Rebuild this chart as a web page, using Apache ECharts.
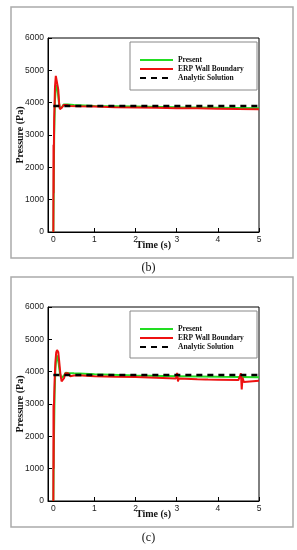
<!DOCTYPE html>
<html><head><meta charset="utf-8">
<script src="https://cdn.jsdelivr.net/npm/echarts@6/dist/echarts.min.js"></script>
<style>html,body{margin:0;padding:0;background:#fff}#c{width:297px;height:550px}</style>
</head><body><div id="c"></div>
<script>
// ---- data ----
var xTicks = [0, 1, 2, 3, 4, 5];
var xMin = -0.13;
var yTicks = [0, 1000, 2000, 3000, 4000, 5000, 6000];
var seriesNames = ['Present', 'ERP Wall Boundary', 'Analytic Solution'];
var analyticValue = 3900;
var analyticTime = [0, 5];

// chart (b)
var timePresentB = [0, 0.01, 0.02, 0.04, 0.06, 0.08, 0.1, 0.12, 0.14, 0.16, 0.18, 0.21, 0.25, 0.29, 0.35, 0.5, 1, 2, 3, 4, 5];
var presentB = [0, 1500, 3000, 4100, 4450, 4550, 4450, 4200, 3950, 3820, 3800, 3860, 3940, 3960, 3940, 3930, 3900, 3880, 3860, 3845, 3830];
var timeErpB = [0, 0.004, 0.008, 0.012, 0.02, 0.04, 0.06, 0.08, 0.09, 0.1, 0.12, 0.14, 0.16, 0.18, 0.21, 0.25, 0.29, 0.33, 0.4, 0.6, 1.0, 1.5, 2, 2.5, 3, 3.5, 4, 4.5, 5];
var erpB = [0, 2700, 1200, 2500, 3500, 4500, 4830, 4880, 4870, 4780, 4400, 4000, 3800, 3780, 3850, 3930, 3960, 3930, 3900, 3890, 3880, 3860, 3850, 3840, 3830, 3825, 3815, 3805, 3800];

// chart (c)
var timePresentC = [0, 0.01, 0.03, 0.05, 0.07, 0.09, 0.11, 0.13, 0.16, 0.19, 0.22, 0.26, 0.3, 0.35, 0.5, 1, 2, 3, 4, 5];
var presentC = [0, 1500, 3300, 4100, 4400, 4500, 4450, 4250, 3950, 3800, 3790, 3880, 3970, 3960, 3950, 3920, 3880, 3860, 3840, 3830];
var timeErpC = [0, 0.004, 0.008, 0.012, 0.03, 0.05, 0.07, 0.09, 0.105, 0.12, 0.14, 0.17, 0.2, 0.23, 0.26, 0.29, 0.32, 0.36, 0.41, 0.5, 0.6, 1.0, 1.5, 2, 2.5, 2.98, 3.01, 3.03, 3.05, 3.08, 3.5, 3.7, 3.73, 3.76, 4, 4.5, 4.54, 4.56, 4.58, 4.6, 4.63, 4.67, 5];
var erpC = [0, 3000, 1000, 2800, 3700, 4300, 4600, 4670, 4680, 4600, 4350, 3950, 3700, 3650, 3800, 3950, 4010, 3950, 3860, 3880, 3886, 3860, 3845, 3833, 3810, 3785, 3960, 3700, 3790, 3775, 3765, 3760, 3700, 3755, 3750, 3740, 3730, 3950, 3450, 3820, 3680, 3740, 3720];

function pairs(t, v) { return t.map(function (x, i) { return [x, v[i]]; }); }

var chart = echarts.init(document.getElementById('c'), null, {renderer: 'canvas'});

var grids = [
  {left: 48, top: 38, width: 211, height: 194},
  {left: 48, top: 307, width: 211, height: 194}
];
var sets = [
  {tp: timePresentB, p: presentB, te: timeErpB, e: erpB},
  {tp: timePresentC, p: presentC, te: timeErpC, e: erpC}
];

var xAxes = [], yAxes = [], series = [];
grids.forEach(function (g, i) {
  g.show = true; g.borderColor = '#000'; g.borderWidth = 1; g.containLabel = false;
  xAxes.push({
    type: 'value', gridIndex: i, min: xMin, max: xTicks[xTicks.length - 1],
    name: 'Time (s)', nameLocation: 'middle', nameGap: 8, nameMoveOverlap: false,
    nameTextStyle: {fontFamily: 'Liberation Serif', fontWeight: 'bold', fontSize: 10, color: '#111', verticalAlign: 'top'},
    axisLine: {show: true, onZero: false, lineStyle: {color: '#000', width: 1}},
    axisTick: {show: true, inside: true, length: 4, lineStyle: {color: '#000'}, customValues: xTicks},
    axisLabel: {fontFamily: 'Liberation Sans', fontSize: 8.5, color: '#222', margin: 3, customValues: xTicks,
      formatter: function (v) { return String(v); }},
    splitLine: {show: false}
  });
  yAxes.push({
    type: 'value', gridIndex: i, min: yTicks[0], max: yTicks[yTicks.length - 1], interval: 1000,
    name: 'Pressure (Pa)', nameLocation: 'middle', nameGap: 23, nameMoveOverlap: false,
    nameTextStyle: {fontFamily: 'Liberation Serif', fontWeight: 'bold', fontSize: 10, color: '#111'},
    axisLine: {show: true, onZero: false, lineStyle: {color: '#000', width: 1}},
    axisTick: {show: true, inside: true, length: 4, lineStyle: {color: '#000'}},
    axisLabel: {fontFamily: 'Liberation Sans', fontSize: 8.5, color: '#222', margin: 4, formatter: function (v) { return String(v); }},
    splitLine: {show: false}
  });
  var s = sets[i];
  series.push({
    name: seriesNames[0], type: 'line', xAxisIndex: i, yAxisIndex: i, showSymbol: false, symbol: 'none',
    data: pairs(s.tp, s.p), lineStyle: {color: '#22dd22', width: 2}, itemStyle: {color: '#22dd22'}, z: 2
  });
  series.push({
    name: seriesNames[1], type: 'line', xAxisIndex: i, yAxisIndex: i, showSymbol: false, symbol: 'none',
    data: pairs(s.te, s.e), lineStyle: {color: '#ee1111', width: 2}, itemStyle: {color: '#ee1111'}, z: 3
  });
  series.push({
    name: seriesNames[2], type: 'line', xAxisIndex: i, yAxisIndex: i, showSymbol: false, symbol: 'none',
    data: analyticTime.map(function (t) { return [t, analyticValue]; }),
    lineStyle: {color: '#000', width: 2.5, type: [6, 5]}, itemStyle: {color: '#000'}, z: 4
  });
});

function legendAt(top) {
  return {
    orient: 'vertical', left: 134, top: top, itemWidth: 33, itemHeight: 8, itemGap: 1,
    data: seriesNames, selectedMode: false,
    itemStyle: {opacity: 0},
    textStyle: {fontFamily: 'Liberation Serif', fontWeight: 'bold', fontSize: 7.5, color: '#111'}
  };
}

chart.setOption({
  animation: false,
  backgroundColor: '#fff',
  grid: grids,
  xAxis: xAxes,
  yAxis: yAxes,
  legend: [legendAt(51), legendAt(320)],
  series: series,
  graphic: [
    {type: 'rect', shape: {x: 11, y: 7, width: 282, height: 251}, style: {fill: 'none', stroke: '#aaa', lineWidth: 1.5}, silent: true},
    {type: 'rect', shape: {x: 11, y: 277, width: 282, height: 250}, style: {fill: 'none', stroke: '#aaa', lineWidth: 1.5}, silent: true},
    {type: 'rect', shape: {x: 130, y: 42, width: 127, height: 48}, style: {fill: 'none', stroke: '#888', lineWidth: 1}, silent: true, z: 10},
    {type: 'rect', shape: {x: 130, y: 311, width: 127, height: 47}, style: {fill: 'none', stroke: '#888', lineWidth: 1}, silent: true, z: 10},
    {type: 'text', left: 'center', top: 262, style: {text: '(b)', font: '12px "Liberation Serif"', fill: '#111'}},
    {type: 'text', left: 'center', top: 532, style: {text: '(c)', font: '12px "Liberation Serif"', fill: '#111'}}
  ]
});
</script></body></html>
